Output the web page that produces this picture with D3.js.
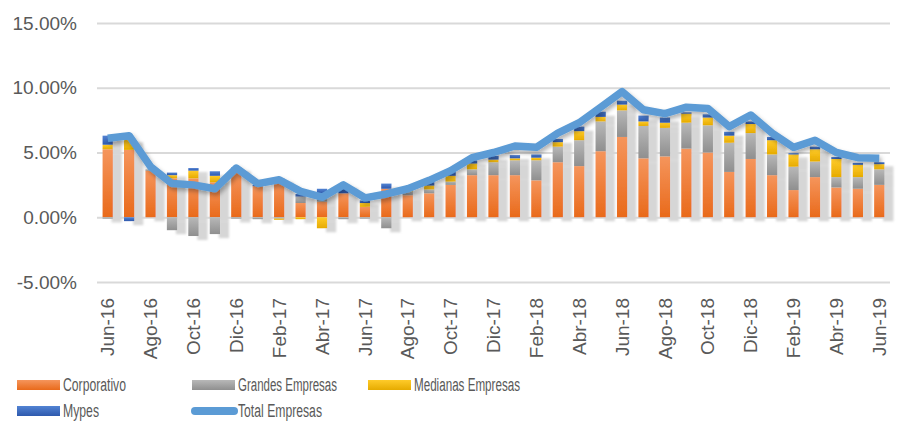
<!DOCTYPE html>
<meta charset="utf-8">
<style>
  body { margin: 0; background: #fff; }
  svg { display: block; font-family: "Liberation Sans", Arial, sans-serif; }
  .axis text { fill: #595959; font-size: 19px; }
  .axis path { display: none; }
  .axis line { stroke: #d9d9d9; stroke-width: 2px; }
  .x.axis line { display: none; }
  .legend text { fill: #595959; font-size: 18px; }
</style>
<svg width="903" height="423"></svg>
<script src="https://d3js.org/d3.v7.min.js"></script>
<script>
var months = ["Jun-16","Jul-16","Ago-16","Sep-16","Oct-16","Nov-16","Dic-16","Ene-17","Feb-17","Mar-17","Abr-17","May-17",
              "Jun-17","Jul-17","Ago-17","Sep-17","Oct-17","Nov-17","Dic-17","Ene-18","Feb-18","Mar-18","Abr-18","May-18",
              "Jun-18","Jul-18","Ago-18","Sep-18","Oct-18","Nov-18","Dic-18","Ene-19","Feb-19","Mar-19","Abr-19","May-19","Jun-19"];

// % values per segment
var corporativo = [5.25,5.2,3.6,3.0,3.0,2.7,3.6,2.4,2.8,1.1,1.2,1.85,0.8,2.2,1.7,1.85,2.5,3.25,3.25,3.25,2.85,4.25,3.95,5.1,
                   6.2,4.55,4.7,5.3,5.0,3.5,4.5,3.25,2.1,3.1,2.3,2.2,2.5];
var grandes     = [-0.1,0,0.1,-1.0,-1.45,-1.3,-0.1,-0.15,-0.1,0.5,0.6,-0.15,-0.1,-0.85,0.3,0.3,0.25,0.45,1.0,1.15,1.55,1.2,2.0,2.3,
                   2.05,2.5,2.2,2.0,2.1,2.25,2.0,1.6,1.8,1.2,0.8,0.9,1.2];
var medianas    = [0.35,0.9,0,0.25,0.6,0.5,0,0,-0.1,-0.15,-0.85,0,0.3,0,0.2,0.3,0.45,0.45,0.2,0.15,0.2,0.35,0.7,0.35,
                   0.45,0.35,0.4,0.7,0.6,0.55,0.7,1.1,0.95,0.95,1.4,0.95,0.4];
var mypes       = [0.7,-0.3,0,0.2,0.2,0.35,0.25,0.1,0.2,0.2,0.4,0.7,0.2,0.4,0.1,0.3,0.35,0.25,0.3,0.25,0.25,0.25,0.35,0.4,
                   0.3,0.45,0.4,0.1,0.25,0.3,0.2,0.25,0.1,0.2,0.15,0.15,0.15];
var total       = [6.1,6.3,3.9,2.6,2.5,2.2,3.8,2.6,2.9,2.0,1.55,2.5,1.5,1.8,2.2,2.85,3.6,4.6,5.0,5.5,5.4,6.5,7.3,8.5,
                   9.7,8.3,8.0,8.5,8.4,7.0,7.9,6.5,5.4,5.95,5.0,4.6,4.55];

var yTicks = [-5, 0, 5, 10, 15];
var tickMonths = months.filter(function(d, i) { return i % 2 == 0; });

var series = [
    {key: "corporativo", name: "Corporativo",       values: corporativo, top: "#f5955c", bottom: "#e96a1b"},
    {key: "grandes",     name: "Grandes Empresas",  values: grandes,     top: "#b8b8b8", bottom: "#8f8f8f"},
    {key: "medianas",    name: "Medianas Empresas", values: medianas,    top: "#ffcb2a", bottom: "#e6ab00"},
    {key: "mypes",       name: "Mypes",             values: mypes,       top: "#5283d3", bottom: "#2e59ad"}
];

var svg = d3.select("svg");
var margin = {top: 23, right: 13, bottom: 141, left: 97},
    width = +svg.attr("width") - margin.left - margin.right,
    height = +svg.attr("height") - margin.top - margin.bottom;

var defs = svg.append("defs");
series.forEach(function(s) {
    var g = defs.append("linearGradient").attr("id", "grad-" + s.key)
        .attr("x1", 0).attr("y1", 0).attr("x2", 0).attr("y2", 1);
    g.append("stop").attr("offset", "0%").attr("stop-color", s.top);
    g.append("stop").attr("offset", "100%").attr("stop-color", s.bottom);
});
defs.append("filter").attr("id", "barShadow")
    .attr("x", "-20%").attr("y", "-20%").attr("width", "200%").attr("height", "140%")
  .append("feDropShadow")
    .attr("dx", 9).attr("dy", 4).attr("stdDeviation", 1.3)
    .attr("flood-color", "#d6d6d6").attr("flood-opacity", 1);
defs.append("filter").attr("id", "lineShadow")
    .attr("x", "-10%").attr("y", "-20%").attr("width", "120%").attr("height", "160%")
  .append("feDropShadow")
    .attr("dx", 2).attr("dy", 3).attr("stdDeviation", 2)
    .attr("flood-color", "#000").attr("flood-opacity", 0.3);

var g = svg.append("g").attr("transform", "translate(" + margin.left + "," + margin.top + ")");

var x = d3.scaleBand().domain(months).range([0, width]).paddingInner(0.52).paddingOuter(0.26);
var y = d3.scaleLinear().domain([-5, 15]).range([height, 0]);

g.append("g")
    .attr("class", "y axis")
    .call(d3.axisLeft(y).tickValues(yTicks).tickSize(-width).tickPadding(20)
        .tickFormat(function(d) { return d.toFixed(2) + "%"; }));

g.append("g")
    .attr("class", "x axis")
    .attr("transform", "translate(0," + height + ")")
    .call(d3.axisBottom(x).tickValues(tickMonths).tickSize(0))
  .selectAll("text")
    .attr("transform", "rotate(-90)")
    .attr("x", -16)
    .attr("y", 0)
    .attr("dy", "0.35em")
    .style("text-anchor", "end");

var table = months.map(function(m, i) {
    var row = {month: m};
    series.forEach(function(s) { row[s.key] = s.values[i]; });
    return row;
});

var stack = d3.stack().keys(series.map(function(s) { return s.key; })).offset(d3.stackOffsetDiverging);
var layers = stack(table);

var bars = g.append("g").attr("filter", "url(#barShadow)");
bars.selectAll(".layer")
    .data(layers)
    .enter().append("g")
    .attr("class", "layer")
    .attr("fill", function(d) { return "url(#grad-" + d.key + ")"; })
  .selectAll("rect")
    .data(function(d) { return d; })
    .enter().append("rect")
    .attr("x", function(d) { return x(d.data.month); })
    .attr("width", x.bandwidth())
    .attr("y", function(d) { return y(Math.max(d[0], d[1])); })
    .attr("height", function(d) { return Math.abs(y(d[0]) - y(d[1])); });

var line = d3.line()
    .x(function(d, i) { return x(months[i]) + x.bandwidth() / 2; })
    .y(function(d) { return y(d); });

g.append("path")
    .datum(total)
    .attr("fill", "none")
    .attr("stroke", "#5b9bd5")
    .attr("stroke-width", 7.5)
    .attr("stroke-linejoin", "round")
    .attr("filter", "url(#lineShadow)")
    .attr("d", line);

// legend (text squeezed to the narrow look of the original)
var legendItems = [
    {name: "Corporativo",       fill: "url(#grad-corporativo)", x: 17,  y: 385, w: 63},
    {name: "Grandes Empresas",  fill: "url(#grad-grandes)",     x: 192, y: 385, w: 99},
    {name: "Medianas Empresas", fill: "url(#grad-medianas)",    x: 368, y: 385, w: 106},
    {name: "Mypes",             fill: "url(#grad-mypes)",       x: 17,  y: 411, w: 36},
    {name: "Total Empresas",    line: true,                     x: 192, y: 411, w: 84}
];
var legend = svg.append("g").attr("class", "legend");
legendItems.forEach(function(d) {
    var it = legend.append("g").attr("transform", "translate(" + d.x + "," + d.y + ")");
    if (d.line) {
        it.append("line").attr("x1", 3).attr("x2", 42).attr("y1", 0).attr("y2", 0)
            .attr("stroke", "#5b9bd5").attr("stroke-width", 8).attr("stroke-linecap", "round");
    } else {
        it.append("rect").attr("x", 0).attr("y", -5).attr("width", 43).attr("height", 10).attr("fill", d.fill);
    }
    it.append("text").attr("x", 46).attr("y", 0).attr("dy", "0.35em")
        .attr("textLength", d.w).attr("lengthAdjust", "spacingAndGlyphs")
        .text(d.name);
});
</script>
